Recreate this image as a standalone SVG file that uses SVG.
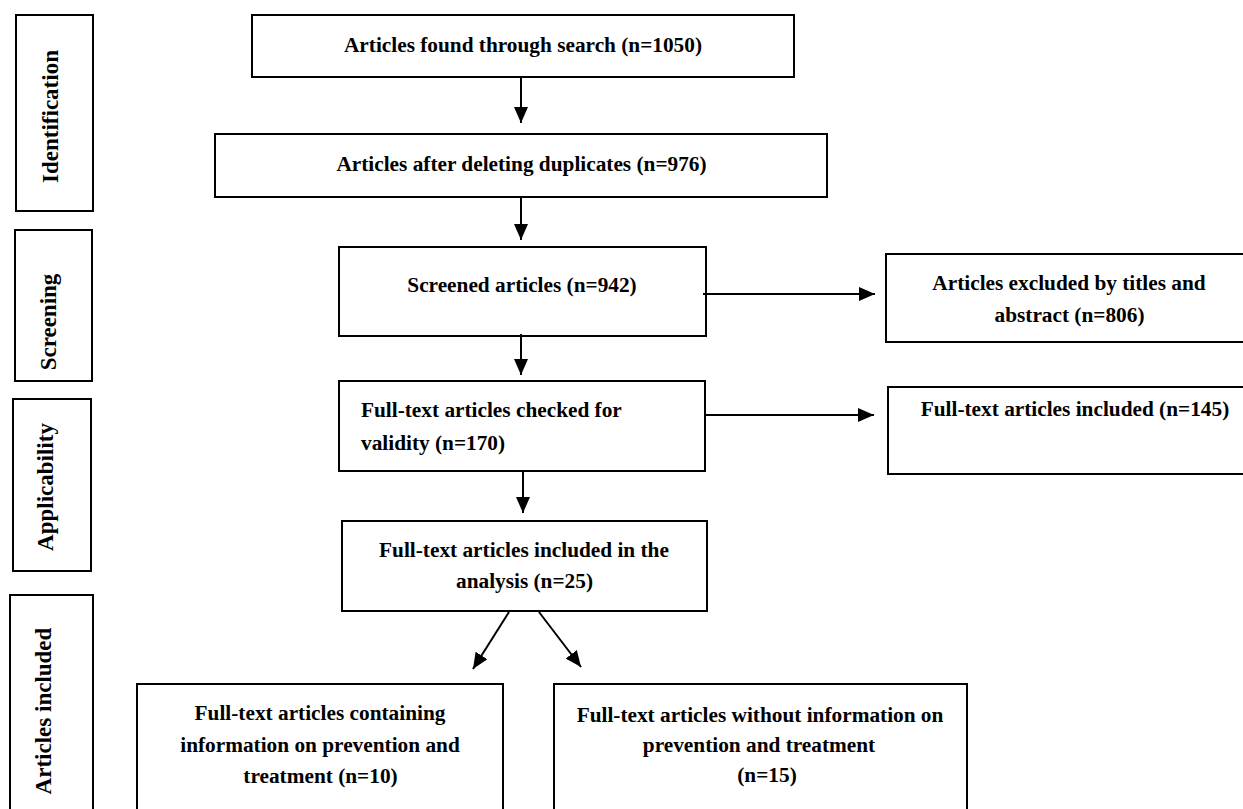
<svg xmlns="http://www.w3.org/2000/svg" width="1243" height="809" viewBox="0 0 1243 809">
<defs>
<style>
.box{fill:#fff;stroke:#000;stroke-width:2}
.t{font-family:"Liberation Serif","Times New Roman",serif;font-weight:bold;font-size:21.3px;fill:#000}
.m{text-anchor:middle}
.side{font-family:"Liberation Serif","Times New Roman",serif;font-weight:bold;font-size:23px;fill:#000;text-anchor:middle}
.c{stroke:#000;stroke-width:2;fill:none;marker-end:url(#ah)}
</style>
<marker id="ah" markerUnits="userSpaceOnUse" markerWidth="16" markerHeight="14" refX="16" refY="7" orient="auto">
<path d="M0,0 L16,7 L0,14 Z" fill="#000"/>
</marker>
</defs>
<rect width="1243" height="809" fill="#fff"/>
<g id="stage-identification">
<rect class="box" x="16" y="15" width="77" height="196"/>
<text class="side" transform="translate(58,116.5) rotate(-90)">Identification</text>
</g>
<g id="stage-screening">
<rect class="box" x="15" y="230" width="77" height="151"/>
<text class="side" transform="translate(56,322) rotate(-90)">Screening</text>
</g>
<g id="stage-applicability">
<rect class="box" x="13" y="399" width="78" height="172"/>
<text class="side" transform="translate(53,487) rotate(-90)">Applicability</text>
</g>
<g id="stage-included">
<rect class="box" x="10" y="595" width="83" height="230"/>
<text class="side" transform="translate(51,711) rotate(-90)">Articles included</text>
</g>
<g id="n-found">
<rect class="box" x="252" y="15" width="542" height="62"/>
<text class="t m" x="523" y="52">Articles found through search (n=1050)</text>
</g>
<g id="n-dedup">
<rect class="box" x="215" y="134" width="612" height="63"/>
<text class="t m" x="521.5" y="171">Articles after deleting duplicates (n=976)</text>
</g>
<g id="n-screened">
<rect class="box" x="339" y="247" width="367" height="89"/>
<text class="t m" x="522" y="292">Screened articles (n=942)</text>
</g>
<g id="n-excluded">
<rect class="box" x="886" y="254" width="370" height="88"/>
<text class="t m" x="1069" y="290">Articles excluded by titles and</text>
<text class="t m" x="1069.5" y="322">abstract (n=806)</text>
</g>
<g id="n-checked">
<rect class="box" x="339" y="381" width="366" height="90"/>
<text class="t" x="361" y="417">Full-text articles checked for</text>
<text class="t" x="361" y="450">validity (n=170)</text>
</g>
<g id="n-included145">
<rect class="box" x="888" y="387" width="370" height="87"/>
<text class="t m" x="1075" y="416">Full-text articles included (n=145)</text>
</g>
<g id="n-analysis">
<rect class="box" x="342" y="521" width="365" height="90"/>
<text class="t m" x="524" y="557">Full-text articles included in the</text>
<text class="t m" x="524.5" y="588">analysis (n=25)</text>
</g>
<g id="n-with">
<rect class="box" x="137" y="684" width="366" height="140"/>
<text class="t m" x="320" y="720">Full-text articles containing</text>
<text class="t m" x="320" y="752">information on prevention and</text>
<text class="t m" x="320.5" y="783">treatment (n=10)</text>
</g>
<g id="n-without">
<rect class="box" x="554" y="684" width="413" height="140"/>
<text class="t m" x="760" y="722">Full-text articles without information on</text>
<text class="t m" x="759" y="752">prevention and treatment</text>
<text class="t m" x="767" y="782">(n=15)</text>
</g>
<g id="connectors">
<line class="c" x1="521" y1="77" x2="521" y2="123"/>
<line class="c" x1="521" y1="197" x2="521" y2="240"/>
<line class="c" x1="521" y1="334" x2="521" y2="375"/>
<line class="c" x1="523" y1="471" x2="523" y2="513"/>
<line class="c" x1="703" y1="294" x2="875" y2="294"/>
<line class="c" x1="705" y1="415" x2="874" y2="415"/>
<line class="c" x1="509" y1="612" x2="473" y2="669"/>
<line class="c" x1="539" y1="612" x2="581" y2="667"/>
</g>
</svg>
